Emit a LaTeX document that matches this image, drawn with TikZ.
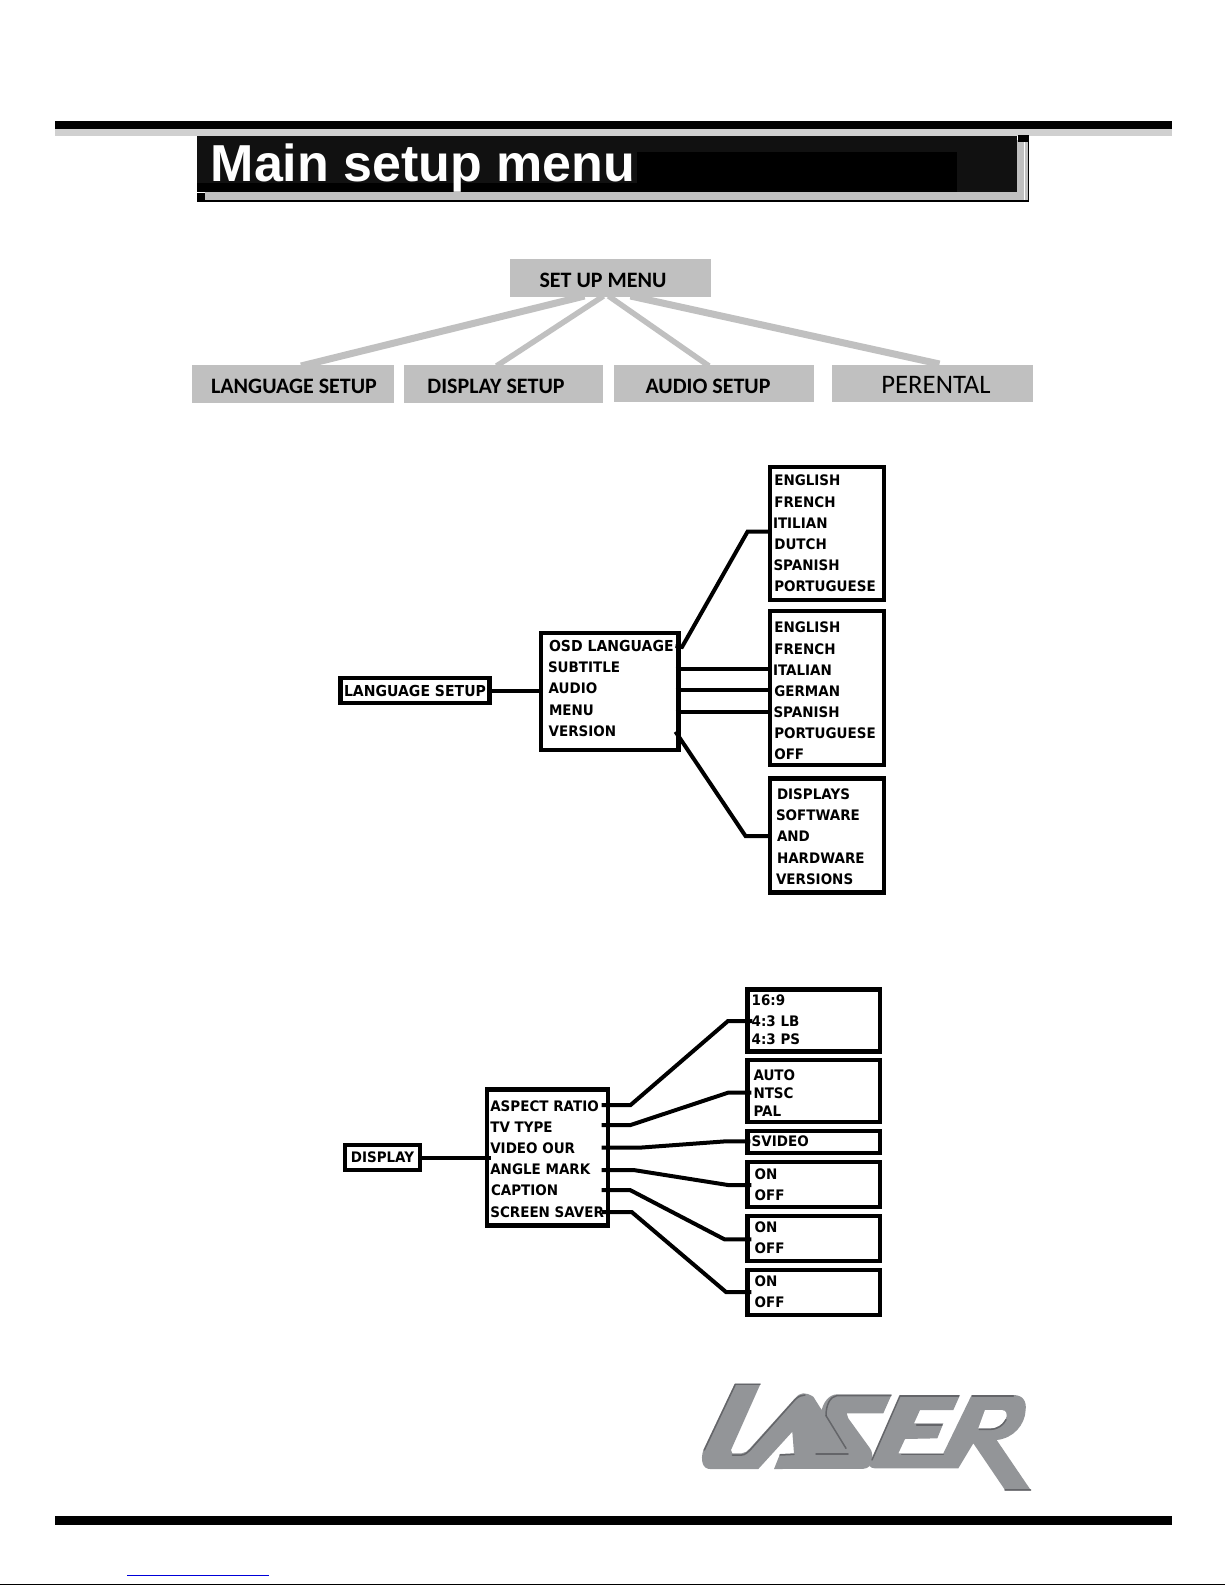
\documentclass[tikz,border=0pt]{standalone}
\usepackage{fontspec}
\setmainfont{Liberation Sans}
\newfontfamily\carlito{Carlito}
\newfontfamily\dejavu[FakeStretch=0.93]{DejaVu Sans}
\definecolor{panel}{HTML}{C0C0C0}
\definecolor{rule}{HTML}{D0D0D0}
\definecolor{logogray}{HTML}{939598}
\definecolor{logoshade}{HTML}{55565A}
\definecolor{titleblack}{HTML}{111111}
\tikzset{
  panelbox/.style={fill=panel,draw=none,inner sep=0pt,outer sep=0pt,font=\carlito\bfseries\fontsize{22}{22}\selectfont,text=black},
  panelline/.style={draw=panel,line width=7pt},
  mbox/.style={draw=black,line width=4.4pt,fill=white,inner sep=0pt,outer sep=0pt},
  item/.style={anchor=west,inner sep=0pt,outer sep=0pt,font=\dejavu\bfseries\fontsize{14.5}{14.5}\selectfont,text=black},
  wideitem/.style={font=\dejavu\bfseries\fontsize{15.1}{15.1}\selectfont},
  conn/.style={draw=black,line width=4pt,line join=miter},
  shade/.style={draw=logoshade,line width=1.5pt,line cap=round,line join=round,opacity=0.75}
}
\begin{document}
\begin{tikzpicture}[x=1pt,y=-1pt]
\useasboundingbox (0,0) rectangle (1225,1585);
\fill[white] (0,0) rectangle (1225,1585);
% page rules
\fill[rule] (55,128) rectangle (1171.5,135.7);
\fill[black] (55,120.5) rectangle (1171.5,128.5);
\fill[black] (55,1516) rectangle (1171.5,1525);
\fill[black] (0,1584) rectangle (1225,1585);
\fill[blue!85!black] (127,1574.5) rectangle (269,1576);
% title banner
\fill[panel] (205,192) rectangle (1024,200);
\fill[panel] (1016,140) rectangle (1024,200);
\fill[panel] (1025,140) rectangle (1027.8,200);
\fill[black] (197,200) rectangle (1029,201.7);
\fill[black] (1027.8,135) rectangle (1029,201.7);
\fill[titleblack] (197,135.5) rectangle (1016.5,192.3);
\fill[black] (637,152) rectangle (957,192);
\fill[black] (197,183) rectangle (637,192);
\fill[black] (1017.7,135) rectangle (1029,141.7);
\fill[black] (197,193) rectangle (205,201.7);
\node[anchor=base west,inner sep=0pt,text=white,font=\bfseries\fontsize{52}{52}\selectfont] (title) at (210.5,181) {Main setup menu};
% set up menu panels
\node[panelbox,minimum width=201pt,minimum height=38pt] (setup) at (610.5,278) {};
\node[panelbox,anchor=center] (setuptxt) at (603,280) {SET UP MENU};
\node[panelbox,minimum width=202pt,minimum height=38pt] (plang) at (293,384) {};
\node[panelbox,anchor=center] (plangtxt) at (294,386.5) {LANGUAGE SETUP};
\node[panelbox,minimum width=199pt,minimum height=38pt] (pdisp) at (503.5,384) {};
\node[panelbox,anchor=center] (pdisptxt) at (496,386.5) {DISPLAY SETUP};
\node[panelbox,minimum width=200pt,minimum height=37pt] (paud) at (714,383.5) {};
\node[panelbox,anchor=center] (paudtxt) at (708,386.5) {AUDIO SETUP};
\node[panelbox,minimum width=201pt,minimum height=37pt] (pper) at (932.5,383.5) {};
\node[panelbox,anchor=center,font=\carlito\fontsize{26.7}{26.7}\selectfont] (ppertxt) at (936,385) {PERENTAL};
\draw[panelline] ([xshift=-26pt,yshift=1pt]setup.south) -- ([xshift=8pt,yshift=-1pt]plang.north);
\draw[panelline,line width=5.5pt] ([xshift=-7pt,yshift=1pt]setup.south) -- ([xshift=-7pt,yshift=-1pt]pdisp.north);
\draw[panelline,line width=5.5pt] ([xshift=-2pt,yshift=1pt]setup.south) -- ([xshift=-5pt,yshift=-1pt]paud.north);
\draw[panelline] ([xshift=20pt,yshift=1pt]setup.south) -- ([xshift=7pt,yshift=1pt]pper.north);
% language setup tree
\node[mbox,wideitem,minimum width=149pt,minimum height=25pt] (lang) at (415,690.5) {LANGUAGE SETUP};
\node[mbox,minimum width=137.5pt,minimum height=117pt] (lmenu) at (609.75,691.5) {};
\node[mbox,minimum width=114.3pt,minimum height=133pt] (lr1) at (826.85,533.5) {};
\node[mbox,minimum width=114.3pt,minimum height=154pt] (lr2) at (826.85,688) {};
\node[mbox,minimum width=114.3pt,minimum height=114pt] (lr3) at (826.85,835.5) {};
\node[item,wideitem] (osd) at (549,646) {OSD LANGUAGE};
\node[item] (sub) at (548,667.3) {SUBTITLE};
\node[item] (aud) at (548.6,688.7) {AUDIO};
\node[item] (men) at (549,710) {MENU};
\node[item] (ver) at (548.6,731) {VERSION};
\node[item] (a1) at (774.3,480.7) {ENGLISH};
\node[item] (a2) at (774.3,502) {FRENCH};
\node[item] (a3) at (773,523) {ITILIAN};
\node[item] (a4) at (774.3,544) {DUTCH};
\node[item] (a5) at (773.5,565) {SPANISH};
\node[item] (a6) at (774.3,586.7) {PORTUGUESE};
\node[item] (b1) at (774.3,627.7) {ENGLISH};
\node[item] (b2) at (774.3,649) {FRENCH};
\node[item] (b3) at (773,670) {ITALIAN};
\node[item] (b4) at (774.3,691) {GERMAN};
\node[item] (b5) at (773.5,712) {SPANISH};
\node[item] (b6) at (774.3,733.7) {PORTUGUESE};
\node[item] (b7) at (774.3,754.7) {OFF};
\node[item] (c1) at (777,794.3) {DISPLAYS};
\node[item] (c2) at (776,815.7) {SOFTWARE};
\node[item] (c3) at (777,836.7) {AND};
\node[item] (c4) at (777,858) {HARDWARE};
\node[item] (c5) at (776,879) {VERSIONS};
\draw[conn] (lang.east) -- (lmenu.west |- lang.east);
\draw[conn] ([xshift=-3pt]lmenu.east |- osd.east) -- (682,647) -- (747.5,531.7) -- (lr1.west |- 0,531.7);
\draw[conn] ([xshift=-3pt]lmenu.east |- 0,669) -- (lr2.west |- 0,669);
\draw[conn] ([xshift=-3pt]lmenu.east |- 0,690) -- (lr2.west |- 0,690);
\draw[conn] ([xshift=-3pt]lmenu.east |- 0,711.7) -- (lr2.west |- 0,711.7);
\draw[conn] ([xshift=-3pt]lmenu.east |- 0,731.7) -- (745.5,836) -- (lr3.west |- 0,836);
% display tree
\node[mbox,item,anchor=center,minimum width=74.5pt,minimum height=25pt] (disp) at (382.5,1157.6) {DISPLAY};
\node[mbox,minimum width=121pt,minimum height=136pt] (dmenu) at (547.5,1157.5) {};
\node[mbox,minimum width=132.4pt,minimum height=62pt] (da) at (813.5,1020.3) {};
\node[mbox,minimum width=132.4pt,minimum height=62pt] (db) at (813.5,1090.8) {};
\node[mbox,minimum width=132.4pt,minimum height=22pt] (dc) at (813.5,1142) {};
\node[mbox,minimum width=132.4pt,minimum height=45pt] (dd) at (813.5,1184.3) {};
\node[mbox,minimum width=132.4pt,minimum height=45pt] (de) at (813.5,1238.2) {};
\node[mbox,minimum width=132.4pt,minimum height=45pt] (df) at (813.5,1292.2) {};
\node[item] (m1) at (490.3,1106) {ASPECT RATIO};
\node[item] (m2) at (490.3,1127) {TV TYPE};
\node[item] (m3) at (490.3,1148.3) {VIDEO OUR};
\node[item] (m4) at (490.3,1169.7) {ANGLE MARK};
\node[item] (m5) at (491,1190.7) {CAPTION};
\node[item] (m6) at (490.3,1212) {SCREEN SAVER};
\node[item] (e1) at (751.7,1000) {16:9};
\node[item] (e2) at (751.7,1021) {4:3 LB};
\node[item] (e3) at (751.7,1039.7) {4:3 PS};
\node[item] (f1) at (753.5,1075) {AUTO};
\node[item] (f2) at (753.5,1093.3) {NTSC};
\node[item] (f3) at (753.5,1110.7) {PAL};
\node[item] (g1) at (751.7,1141.3) {SVIDEO};
\node[item] (h1) at (754.6,1174) {ON};
\node[item] (h2) at (754.6,1195.3) {OFF};
\node[item] (i1) at (754.6,1227.7) {ON};
\node[item] (i2) at (754.6,1248.7) {OFF};
\node[item] (j1) at (754.6,1281.7) {ON};
\node[item] (j2) at (754.6,1302.7) {OFF};
\draw[conn] (disp.east) -- ([xshift=4pt]dmenu.west |- disp.east);
\draw[conn] (601.5,1105) -- (630.6,1105) -- (728,1021) -- ([xshift=5pt]da.west |- 0,1021);
\draw[conn] (601.5,1125) -- (630.6,1125) -- (728,1092.7) -- ([xshift=4pt]db.west |- 0,1092.7);
\draw[conn] (601.5,1147.7) -- (639,1147.7) -- (726,1141.3) -- ([xshift=3pt]dc.west |- 0,1141.3);
\draw[conn] (601.5,1170) -- (633.5,1170) -- (728,1185) -- ([xshift=4pt]dd.west |- 0,1185);
\draw[conn] (601.5,1190) -- (630,1190) -- (724.4,1239.3) -- ([xshift=4pt]de.west |- 0,1239.3);
\draw[conn] (601.5,1212) -- (631.7,1212) -- (726,1292) -- ([xshift=4pt]df.west |- 0,1292);
% logo
\fill[logogray] (735,1383.3) -- (760.7,1383.3) -- (731,1450) -- (732.3,1453.3) -- (741.7,1453.3)
  .. controls (745,1453) and (748,1451) .. (750,1448.3) -- (795,1398.3)
  .. controls (798,1395) and (800,1393.5) .. (803.3,1393.3) .. controls (806,1393.3) and (809,1394) .. (813.3,1396.7)
  -- (821.7,1410) .. controls (823,1404) and (828,1394.5) .. (837,1394.3) -- (891.7,1394.3) -- (883.3,1413.3) -- (846.7,1413.3)
  -- (848.3,1418.3) -- (870,1448.3) .. controls (874,1454) and (874,1468.3) .. (863.3,1468.8) -- (774,1469) -- (780,1454) -- (794,1453.3)
  -- (792.3,1431.7) -- (758.3,1469) -- (710,1469) .. controls (703,1469) and (700,1461) .. (703.3,1450) -- cycle;
\begin{scope}[shift={(860,1375)},x=0.3333pt,y=-0.3333pt]
\fill[logogray] (120,60) -- (300,60) -- (280,105) -- (180,105) -- (162,145) -- (250,145) -- (232,190) -- (135,192)
  -- (115,235) -- (250,235) -- (335,60) -- (460,60) .. controls (490,60) and (500,80) .. (497,105)
  .. controls (495,150) and (460,190) .. (410,195) -- (512,345) -- (435,345) -- (340,205) -- (295,280) -- (45,280)
  .. controls (30,280) and (25,270) .. (30,262) -- cycle;
\fill[white] (375,105) -- (425,105) .. controls (440,105) and (445,120) .. (435,135) .. controls (425,150) and (410,160) .. (390,160) -- (355,160) -- cycle;
\draw[shade] (170,150) -- (246,150);
\draw[shade] (125,238) -- (250,238);
\draw[shade] (358,163) -- (392,163) .. controls (415,162) and (430,150) .. (438,134);
\draw[shade] (435,345) -- (512,345);
\draw[shade] (122,63) -- (296,63);
\draw[shade] (337,63) -- (460,63);
\draw[shade] (120,62) -- (36,255);
\end{scope}
\begin{scope}[shift={(695,1375)},x=0.3333pt,y=-0.3333pt]
\draw[shade] (112,240) -- (140,240) .. controls (150,240) and (158,232) .. (168,222) -- (300,74) .. controls (310,64) and (320,60) .. (330,60);
\draw[shade] (120,30) -- (28,225);
\draw[shade] (255,240) -- (297,238);
\draw[shade] (120,29) -- (195,29);
\end{scope}
\begin{scope}[shift={(790,1385)},x=0.3333pt,y=-0.3333pt]
\draw[shade] (108,92) .. controls (108,60) and (120,35) .. (140,32) -- (303,32);
\draw[shade] (108,92) -- (168,190);
\draw[shade] (78,207) -- (174,207);
\end{scope}
\end{tikzpicture}
\end{document}
